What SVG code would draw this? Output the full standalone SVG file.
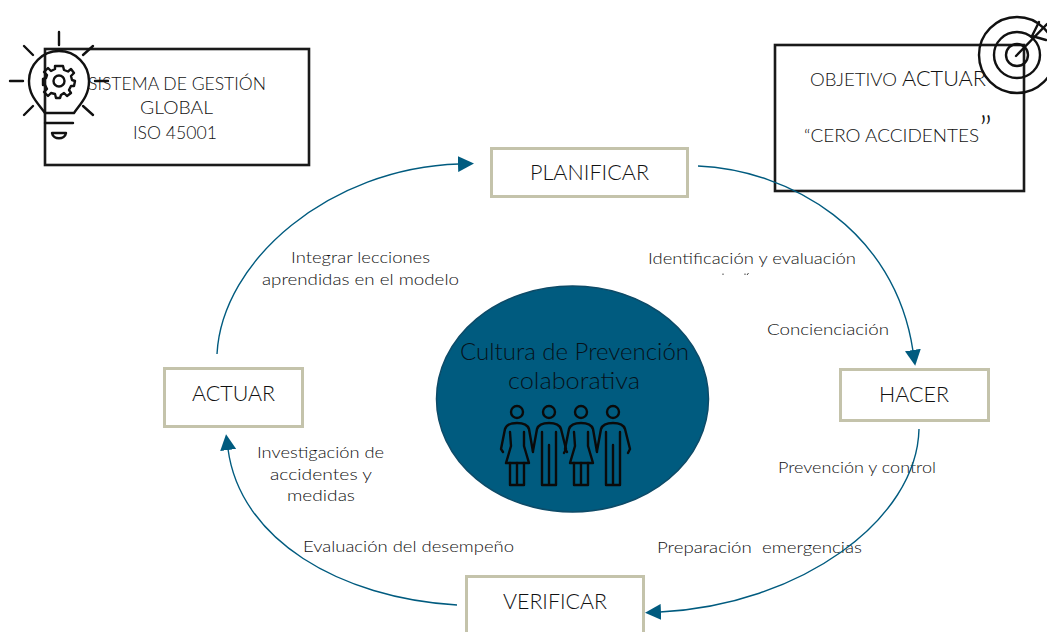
<svg xmlns="http://www.w3.org/2000/svg" xmlns:xlink="http://www.w3.org/1999/xlink" width="1047" height="632" viewBox="0 0 1047 632">
<style>
text{font-family:"Lato","Open Sans","Liberation Sans",sans-serif;fill:#404040;text-anchor:start;font-weight:300}
.lbl{font-size:15.5px;fill:#111}
.step{font-size:21px;fill:#111}
.obj{font-size:18px;fill:#111}
.cult{font-size:22.5px;fill:#06121a}
.pdca{fill:#fff;stroke:#c4c3ab;stroke-width:3}
.goal{fill:#fff;stroke:#1a1a1a;stroke-width:2.6}
.conn{fill:none;stroke:#005b7f;stroke-width:1.4}
.ic{fill:none;stroke:#111;stroke-width:2.4;stroke-linecap:round;stroke-linejoin:round}
.pp{fill:none;stroke:#0a0a0a;stroke-width:2.4;stroke-linejoin:round;stroke-linecap:round}
</style>
<defs>
<marker id="ah" markerUnits="userSpaceOnUse" markerWidth="16" markerHeight="16" refX="1" refY="8" orient="auto"><path d="M0 0L16 8L0 16Z" fill="#005b7f"/></marker>
<g id="woman" class="pp"><circle cx="0" cy="412" r="6"/><path d="M-14 452L-16 449L-12 429Q-10 423 0 423Q10 423 12 429L16 452"/><path d="M-7 432L-6 446L-11 463H12L7 446L7 432"/><path d="M-7 463V485H7V463M0 463V485"/></g>
<g id="man" class="pp"><circle cx="0" cy="412" r="6"/><path d="M-16 451L-12 429Q-10 423 0 423Q10 423 12 429L17 449L15 453"/><path d="M-7 432V485H7V432M0 445V485"/></g>
</defs>
<g id="node-sistema"><rect class="goal" x="45" y="49" width="264" height="116"/>
<text class="obj" x="88" y="90" textLength="178" lengthAdjust="spacingAndGlyphs">SISTEMA DE GESTIÓN</text>
<text class="obj" x="140" y="114" textLength="73" lengthAdjust="spacingAndGlyphs">GLOBAL</text>
<text class="obj" x="133" y="139" textLength="84" lengthAdjust="spacingAndGlyphs">ISO 45001</text></g>
<g id="icon-bulb" class="ic">
<path d="M45 113C38 103 29 96 29 81A30 30 0 0 1 89 81C89 96 81 103 74 113Z"/>
<path d="M45 123H73M52 133H66C65 140 53 140 52 133Z"/>
<path d="M59 32V45M10 81H23M95 81H108M24 46L33 55M93 46L83 55M24 115L33 106M93 115L83 106"/>
<path d="M59 66L63 66L64 70L68 71.500L71 69L74 73L71 76L72 80L75 81L74 86L71 86L69 90L71 93L67 96L64 93L61 95L60 98H56L55 94L51 93L48 96L44 92L47 89L45 85L43 85L43 79L46 78L47 75L44 72L48 68L51 71L55 69L55 66Z"/>
<circle cx="59" cy="81" r="5.500"/>
</g>
<g id="node-objetivo"><rect class="goal" x="775" y="45" width="249" height="146"/>
<text class="obj" x="810" y="86" textLength="176" lengthAdjust="spacingAndGlyphs">OBJETIVO <tspan font-size="21">ACTUAR</tspan></text>
<text class="obj" x="804" y="142" textLength="188" lengthAdjust="spacingAndGlyphs">“CERO ACCIDENTES<tspan font-size="36">”</tspan></text></g>
<g id="icon-target" class="ic">
<circle cx="1017" cy="55" r="38"/><circle cx="1017" cy="55" r="23"/><circle cx="1017" cy="55" r="11"/>
<path d="M1016 56L1047 24M1039 22L1032 36L1046 40"/>
</g>
<g id="node-planificar"><rect class="pdca" x="491.500" y="148.500" width="196" height="48"/><text class="step" x="530" y="180" textLength="119" lengthAdjust="spacingAndGlyphs">PLANIFICAR</text></g>
<g id="node-hacer"><rect class="pdca" x="840.500" y="369.500" width="148" height="51"/><text class="step" x="879" y="402" textLength="70" lengthAdjust="spacingAndGlyphs">HACER</text></g>
<g id="node-actuar"><rect class="pdca" x="164.500" y="368.500" width="138" height="58"/><text class="step" x="192" y="401" textLength="83" lengthAdjust="spacingAndGlyphs">ACTUAR</text></g>
<g id="node-verificar"><rect class="pdca" x="466.500" y="576.500" width="177" height="60"/><text class="step" x="503" y="609" textLength="104" lengthAdjust="spacingAndGlyphs">VERIFICAR</text></g>
<g id="node-cultura">
<ellipse cx="572.500" cy="399" rx="136" ry="113" fill="#005b7f" stroke="#0d4b68" stroke-width="1.500"/>
<text class="cult" x="460" y="360" textLength="229" lengthAdjust="spacingAndGlyphs">Cultura de Prevención</text>
<text class="cult" x="508" y="389" textLength="132" lengthAdjust="spacingAndGlyphs">colaborativa</text>
<use href="#woman" xlink:href="#woman" x="517"/><use href="#man" xlink:href="#man" x="549"/><use href="#woman" xlink:href="#woman" x="581"/><use href="#man" xlink:href="#man" x="613"/>
</g>
<g id="labels">
<text class="lbl" x="291" y="263" textLength="139" lengthAdjust="spacingAndGlyphs">Integrar lecciones</text>
<text class="lbl" x="262" y="285" textLength="197" lengthAdjust="spacingAndGlyphs">aprendidas en el modelo</text>
<text class="lbl" x="648" y="264" textLength="208" lengthAdjust="spacingAndGlyphs">Identificación y evaluación</text>
<path d="M723 273.500V275M745 275V273.500M747 275L748.500 273" stroke="#404040" stroke-width="1" fill="none"/>
<text class="lbl" x="767" y="335" textLength="122" lengthAdjust="spacingAndGlyphs">Concienciación</text>
<text class="lbl" x="778" y="473" textLength="158" lengthAdjust="spacingAndGlyphs">Prevención y control</text>
<text class="lbl" x="657" y="553" textLength="205" lengthAdjust="spacingAndGlyphs" xml:space="preserve">Preparación  emergencias</text>
<text class="lbl" x="303" y="552" textLength="211" lengthAdjust="spacingAndGlyphs">Evaluación del desempeño</text>
<text class="lbl" x="257" y="458" textLength="127" lengthAdjust="spacingAndGlyphs">Investigación de</text>
<text class="lbl" x="270" y="480" textLength="102" lengthAdjust="spacingAndGlyphs">accidentes y</text>
<text class="lbl" x="287" y="501" textLength="68" lengthAdjust="spacingAndGlyphs">medidas</text>
</g>
<g id="connectors">
<path class="conn" d="M217 354C222 260 330 168 459 164" marker-end="url(#ah)"/>
<path class="conn" d="M698 166C790 170 895 230 913 351" marker-end="url(#ah)"/>
<path class="conn" d="M919 429C917 520 800 605 660 612" marker-end="url(#ah)"/>
<path class="conn" d="M457 605C340 598 240 540 228 449" marker-end="url(#ah)"/>
</g>
</svg>
